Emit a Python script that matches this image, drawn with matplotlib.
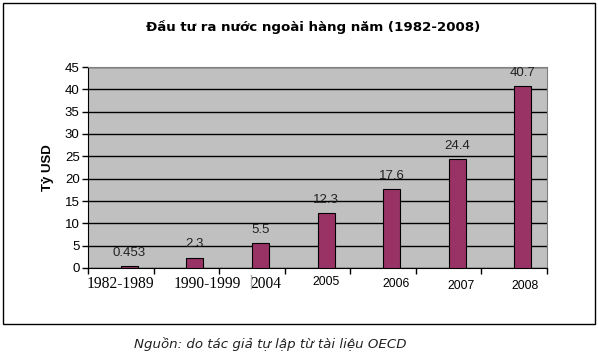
import matplotlib
matplotlib.use('Agg')
import matplotlib.pyplot as plt
import numpy as np
from matplotlib.patches import Rectangle
from matplotlib.lines import Line2D

# du lieu
categories = ['1982-1989', '1990-1999', '2004', '2005', '2006', '2007', '2008']
values = [0.453, 2.3, 5.5, 12.3, 17.6, 24.4, 40.7]
value_labels = ['0.453', '2.3', '5.5', '12.3', '17.6', '24.4', '40.7']

W, H = 598, 354
fig = plt.figure(figsize=(W / 100, H / 100), dpi=100)

# borda do grafico
fig.patches.append(Rectangle((3.5 / W, 1 - 324 / H), 591 / W, 321 / H, transform=fig.transFigure,
                             fill=False, edgecolor='black', linewidth=1))

ax = fig.add_axes([88 / W, 1 - 268 / H, 459 / W, 201 / H])
ax.set_facecolor('#C0C0C0')

x = np.arange(len(categories))
ax.bar(x + 0.13, values, width=0.26, color='#993366', edgecolor='black', linewidth=0.8, zorder=3)

for xi, v, lab in zip(x, values, value_labels):
    ax.annotate(lab, (xi + 0.13, v), xytext=(0, 7.5), textcoords='offset points',
                ha='center', va='baseline', fontsize=9.5, family='Liberation Sans',
                color='#222222', zorder=4)

ax.set_xlim(-0.5, len(categories) - 0.5)
ax.set_ylim(0, 45)
ax.set_yticks(range(0, 46, 5))
ax.yaxis.grid(True, color='black', linewidth=1)
ax.set_axisbelow(True)

ax.set_xticks(np.arange(len(categories) + 1) - 0.5)
ax.set_xticklabels([])
ax.tick_params(axis='x', direction='out', length=4, width=1, color='black')
ax.tick_params(axis='y', direction='out', length=4, width=1, color='black',
               labelsize=9.5, pad=2)
for t in ax.get_yticklabels():
    t.set_family('Liberation Sans')

# rotulos do eixo x (desalinhados e com fontes misturadas como no original)
label_offsets = [0.0, 0.32, 0.22, 0.13, 0.2, 0.19, 0.17]
label_drop = [0, 0, 0, 0, 2, 4, 4]
label_fonts = ['Liberation Serif'] * 3 + ['Liberation Sans'] * 4
label_sizes = [11.2, 11.2, 11.2, 8.8, 8.8, 8.8, 8.8]
for xi, c, off, dr, fam, fs in zip(x, categories, label_offsets, label_drop, label_fonts, label_sizes):
    ax.annotate(c, (xi + off, 0), xytext=(0, -6 - dr * 0.72), textcoords='offset points',
                ha='center', va='top', fontsize=fs, family=fam, annotation_clip=False)

# tracinho cinza antes do 2004
fig.lines.append(Line2D([251 / W, 251 / W], [1 - 275 / H, 1 - 288 / H], transform=fig.transFigure,
                        color='#b0b0b0', linewidth=1))

for s in ['top', 'right']:
    ax.spines[s].set_color('#808080')
for s in ['left', 'bottom']:
    ax.spines[s].set_color('black')

fig.text(48 / W, 1 - 168 / H, 'Tỷ USD', ha='center', va='center', rotation=90,
         fontsize=9.5, fontweight='bold', family='Liberation Sans')

fig.text(313.5 / W, 1 - 27 / H, 'Đầu tư ra nước ngoài hàng năm (1982-2008)', ha='center', va='center',
         fontsize=9.6, fontweight='bold', family='DejaVu Sans')

fig.text(270 / W, 1 - 344 / H, 'Nguồn: do tác giả tự lập từ tài liệu OECD', ha='center', va='center',
         fontsize=9.6, style='italic', family='DejaVu Sans', color='#222222')

fig.savefig('out.png', dpi=100)
